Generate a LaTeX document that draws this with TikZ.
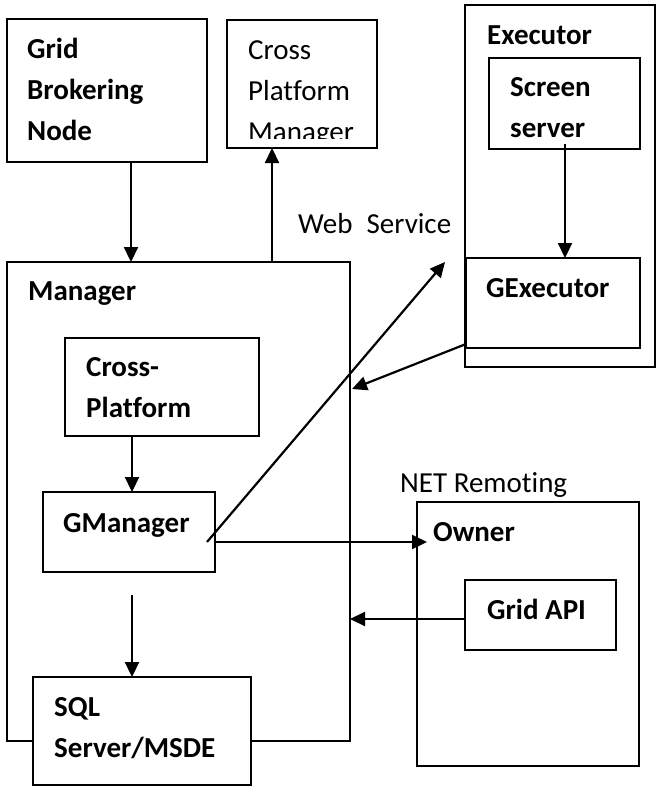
\documentclass[tikz,border=0pt]{standalone}
\usepackage{fontspec}
\setmainfont[Ligatures=NoCommon]{Carlito}
\usetikzlibrary{arrows.meta}
\tikzset{
  box/.style={draw, line width=2pt, outer sep=0pt, inner sep=0pt, anchor=north west},
  wbox/.style={box, fill=white},
  arr/.style={line width=2.2pt, -{Triangle[length=15pt,width=14pt]}},
  lbl/.style={anchor=base west, inner sep=0pt, align=left, font=\fontsize{29}{41}\selectfont\bfseries},
  rlbl/.style={anchor=base west, inner sep=0pt, align=left, font=\fontsize{29}{41}\selectfont}
}
\begin{document}
\begin{tikzpicture}[x=1pt,y=-1pt]
\useasboundingbox (0,0) rectangle (656,787);
\fill[white] (0,0) rectangle (656,787);
% boxes
\node[box, minimum width=200pt, minimum height=143pt] (gbn) at (7,19) {};
\node[box, minimum width=150pt, minimum height=128pt] (cpm) at (227,20) {};
\node[box, minimum width=190pt, minimum height=362pt] (exec) at (465,5) {};
\node[box, minimum width=151pt, minimum height=91pt] (scr) at (489,58) {};
\node[box, minimum width=174pt, minimum height=90pt] (gex) at (466,258) {};
\node[box, minimum width=343pt, minimum height=479pt] (mgr) at (7,262) {};
\node[box, minimum width=194pt, minimum height=98pt] (cpl) at (65,338) {};
\node[box, minimum width=172pt, minimum height=80pt] (gman) at (43,492) {};
\node[wbox, minimum width=218pt, minimum height=108pt] (sql) at (33,677) {};
\node[box, minimum width=222pt, minimum height=264pt] (owner) at (417,502) {};
\node[box, minimum width=151pt, minimum height=70pt] (api) at (465,580) {};
% labels (anchored at the baseline of the last line)
\node[lbl] (tgbn) at (27,140) {Grid\\Brokering\\Node};
\begin{scope}
\clip (227,20) rectangle (377,138);
\node[rlbl] (tcpm) at (248,141) {Cross\\Platform\\Manager};
\end{scope}
\node[lbl] (texec) at (487,44) {Executor};
\node[lbl] (tscr) at (510,137) {Screen\\server};
\node[lbl] (tgex) at (486,297) {GExecutor};
\node[lbl] (tmgr) at (28,300) {Manager};
\node[lbl] (tcpl) at (86,417) {Cross-\\Platform};
\node[lbl] (tgman) at (63,532) {GManager};
\node[lbl] (tsql) at (54,757) {SQL\\Server/MSDE};
\node[lbl] (towner) at (433,541) {Owner};
\node[lbl] (tapi) at (487,619) {Grid API};
\node[rlbl] (tws) at (298,233) {Web\hspace{14pt}Service};
\node[rlbl] (tnet) at (400,492) {NET Remoting};
% free-end coordinates
\coordinate (wsend) at (445,262);
\coordinate (gmstart) at (207,542);
\coordinate (ownin) at (427,542);
\coordinate (sqlstart) at (132,595);
\coordinate (mgrin) at (352,389);
\coordinate (gexout) at (466,344);
\coordinate (scrout) at (565,144);
% connectors
\draw[arr] (gbn.south -| 131,0) -- (mgr.north -| 131,0);
\draw[arr] (mgr.north -| 272,0) -- (cpm.south -| 272,0);
\draw[arr] (scrout) -- (gex.north -| scrout);
\draw[arr] (cpl.south -| 132,0) -- (gman.north -| 132,0);
\draw[arr] (sqlstart) -- (sql.north -| sqlstart);
\draw[arr] (gmstart) -- (wsend);
\draw[arr] (gman.east |- ownin) -- (ownin);
\draw[arr] (api.west |- 0,619) -- (mgr.east |- 0,619);
\draw[arr] (gexout) -- (mgrin);
\end{tikzpicture}
\end{document}
